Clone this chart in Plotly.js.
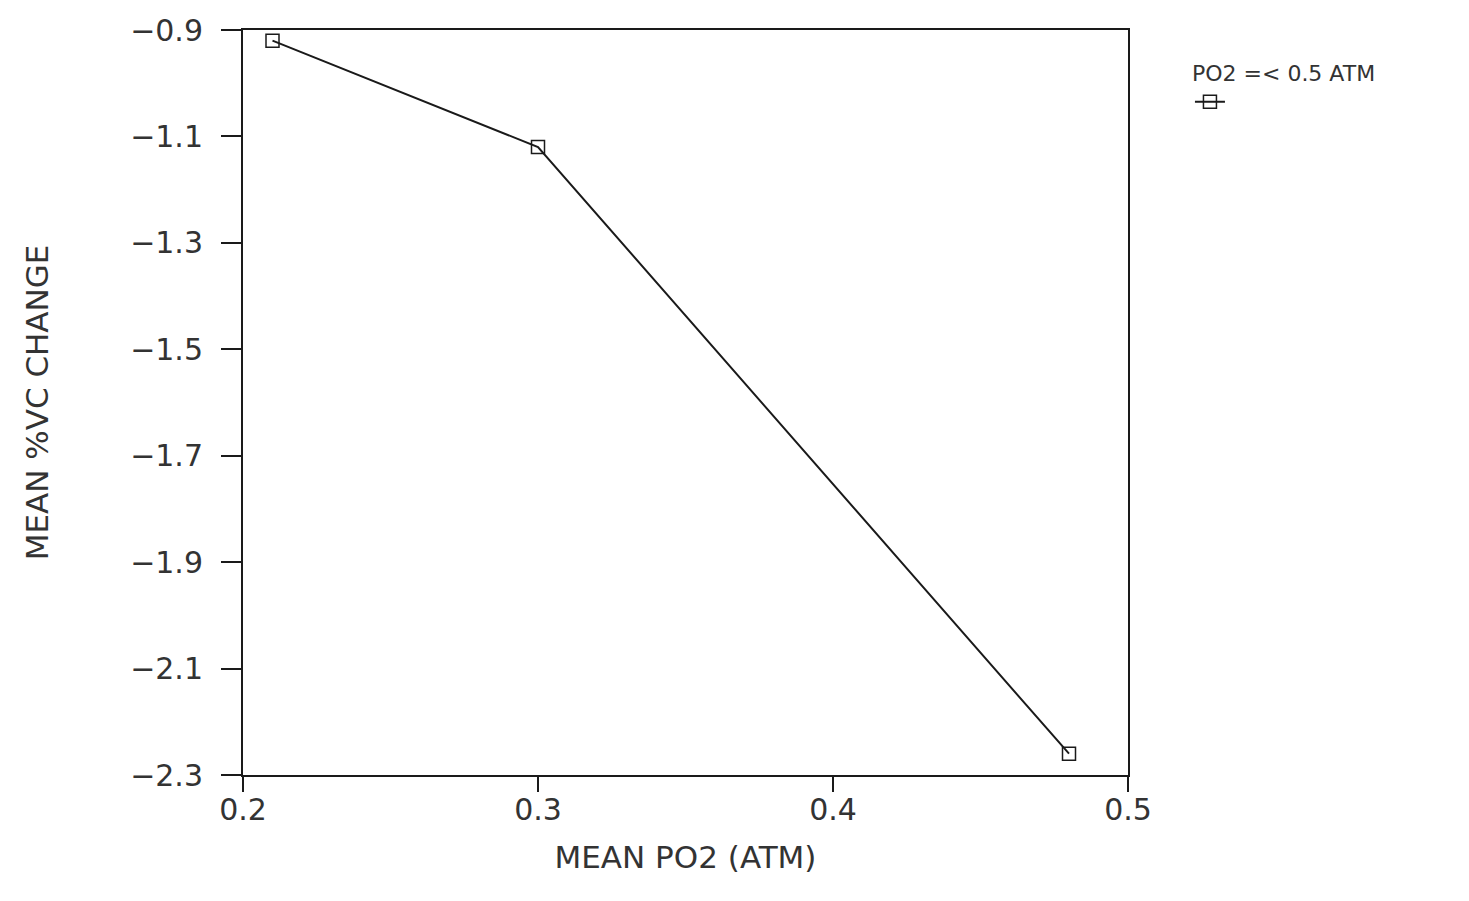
<!DOCTYPE html>
<html>
<head>
<meta charset="utf-8">
<script src="https://cdn.plot.ly/plotly-3.0.1.min.js"></script>
<style>html,body{margin:0;padding:0;background:#fff;}#chart{width:1469px;height:901px;}</style>
</head>
<body>
<div id="chart"></div>
<script>
const meanPO2 = [0.21, 0.30, 0.48];
const meanVCChange = [-0.92, -1.12, -2.26];
const xTicks = [0.2, 0.3, 0.4, 0.5];
const yTicks = [-0.9, -1.1, -1.3, -1.5, -1.7, -1.9, -2.1, -2.3];
const seriesName = "";
const legendTitle = "PO2 =< 0.5 ATM";
const xTitle = "MEAN PO2 (ATM)";
const yTitle = "MEAN %VC CHANGE";

const fontFam = "DejaVu Sans, sans-serif";
const ink = "#1a1a1a";
const txt = "#333";

const trace = {
  x: meanPO2, y: meanVCChange, type: 'scatter', mode: 'lines+markers',
  name: seriesName,
  line: {color: ink, width: 2},
  marker: {symbol: 'square-open', size: 13, color: ink, line: {width: 1.5, color: ink}},
  showlegend: true
};

const layout = {
  width: 1469, height: 901,
  margin: {l: 243, r: 341, t: 30, b: 126},
  paper_bgcolor: '#fff', plot_bgcolor: '#fff',
  font: {family: fontFam, color: txt},
  xaxis: {
    range: [0.2, 0.5], tickvals: xTicks, ticktext: xTicks.map(v => v.toFixed(1)),
    showgrid: false, zeroline: false, showline: true, mirror: true,
    linecolor: ink, linewidth: 2, ticks: 'outside', ticklen: 15, tickwidth: 2, tickcolor: ink,
    tickfont: {size: 30, color: txt}, ticklabelstandoff: -8,
    title: {text: xTitle, font: {size: 31, color: txt}, standoff: 20}
  },
  yaxis: {
    range: [-2.3, -0.9], tickvals: yTicks, ticktext: yTicks.map(v => '\u2212' + Math.abs(v).toFixed(1)),
    showgrid: false, zeroline: false, showline: true, mirror: true,
    linecolor: ink, linewidth: 2, ticks: 'outside', ticklen: 20, tickwidth: 2, tickcolor: ink,
    tickfont: {size: 30, color: txt}, ticklabelstandoff: 12,
    title: {text: yTitle, font: {size: 31, color: txt}, standoff: 72}
  },
  legend: {
    x: 1.07, y: 0.97, xanchor: 'left', yanchor: 'top',
    bgcolor: 'rgba(0,0,0,0)', borderwidth: 0,
    font: {size: 22, color: txt},
    title: {text: legendTitle, font: {size: 22, color: txt}, side: 'top'}
  },
  showlegend: true
};

Plotly.newPlot('chart', [trace], layout, {displayModeBar: false, staticPlot: true});
</script>
</body>
</html>
